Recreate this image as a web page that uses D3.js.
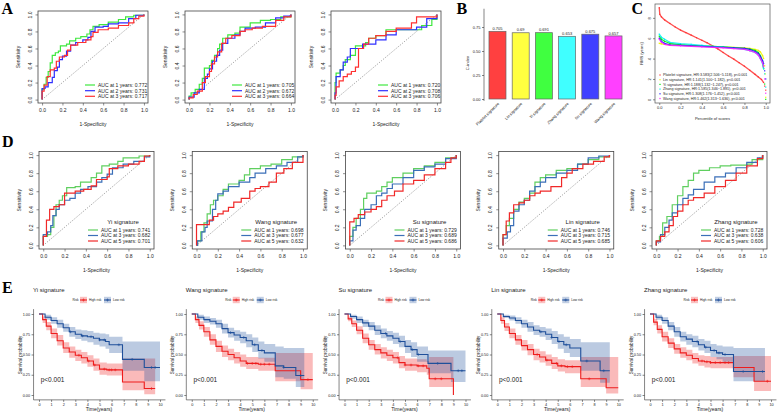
<!DOCTYPE html>
<html>
<head>
<meta charset="utf-8">
<script src="https://cdn.jsdelivr.net/npm/d3@7/dist/d3.min.js"></script>
<style>
  body { margin: 0; background: #fff; }
  svg { display: block; }
  text { font-family: "Liberation Sans", Arial, sans-serif; fill: #222; }
  .letter { font-family: "Liberation Serif", "Times New Roman", serif; font-weight: bold; font-size: 16px; fill: #000; }
</style>
</head>
<body>
<svg width="777" height="412"></svg>
<script>
const svg = d3.select('svg')

// ---------- data ----------
const signatures = ['Yi signature', 'Wang signature', 'Su signature', 'Lin signature', 'Zhang signature']

// panel A: ROC at 1/2/3 years, [fpr, tpr]
const rocA1 = [
  [[0,0],[0,0.12],[0.02,0.18],[0.04,0.26],[0.06,0.33],[0.08,0.43],[0.1,0.52],[0.13,0.55],[0.16,0.57],[0.18,0.63],[0.24,0.65],[0.27,0.69],[0.33,0.72],[0.38,0.74],[0.44,0.77],[0.47,0.82],[0.5,0.86],[0.56,0.88],[0.65,0.91],[0.75,0.94],[0.82,0.97],[0.9,0.99],[1,1]],
  [[0,0],[0,0.13],[0.03,0.15],[0.06,0.2],[0.1,0.26],[0.12,0.34],[0.15,0.38],[0.17,0.47],[0.2,0.51],[0.24,0.57],[0.28,0.64],[0.33,0.67],[0.4,0.7],[0.45,0.73],[0.48,0.8],[0.52,0.85],[0.6,0.86],[0.65,0.89],[0.75,0.9],[0.85,0.95],[0.92,0.99],[1,1]],
  [[0,0],[0,0.1],[0.02,0.17],[0.05,0.27],[0.08,0.35],[0.12,0.37],[0.14,0.45],[0.17,0.5],[0.22,0.52],[0.25,0.58],[0.28,0.64],[0.35,0.67],[0.43,0.7],[0.48,0.74],[0.5,0.79],[0.55,0.82],[0.65,0.84],[0.75,0.87],[0.85,0.9],[0.9,0.95],[0.95,0.98],[1,1]]
]
const rocA2 = [
  [[0,0],[0,0.04],[0.02,0.08],[0.06,0.12],[0.1,0.18],[0.13,0.25],[0.15,0.37],[0.2,0.4],[0.22,0.46],[0.25,0.52],[0.28,0.6],[0.3,0.65],[0.33,0.72],[0.38,0.76],[0.45,0.78],[0.5,0.85],[0.6,0.9],[0.7,0.93],[0.8,0.94],[0.9,0.97],[1,1]],
  [[0,0],[0,0.03],[0.05,0.08],[0.1,0.12],[0.15,0.25],[0.18,0.3],[0.2,0.36],[0.23,0.45],[0.27,0.52],[0.3,0.58],[0.33,0.66],[0.38,0.72],[0.45,0.76],[0.5,0.8],[0.55,0.84],[0.65,0.85],[0.75,0.9],[0.85,0.96],[0.93,0.98],[1,1]],
  [[0,0],[0,0.02],[0.04,0.06],[0.08,0.1],[0.13,0.2],[0.16,0.27],[0.2,0.33],[0.22,0.42],[0.25,0.5],[0.28,0.56],[0.32,0.66],[0.36,0.72],[0.42,0.75],[0.5,0.8],[0.55,0.82],[0.62,0.84],[0.72,0.86],[0.85,0.93],[0.93,0.97],[1,1]]
]
const rocA3 = [
  [[0,0],[0,0.2],[0.01,0.31],[0.05,0.35],[0.08,0.4],[0.1,0.47],[0.15,0.52],[0.2,0.63],[0.3,0.67],[0.33,0.72],[0.4,0.75],[0.5,0.82],[0.82,0.82],[0.85,0.87],[0.95,0.94],[1,1]],
  [[0,0],[0,0.08],[0.01,0.27],[0.05,0.35],[0.08,0.44],[0.12,0.5],[0.15,0.6],[0.27,0.65],[0.35,0.65],[0.4,0.7],[0.5,0.76],[0.6,0.82],[0.8,0.85],[0.9,0.95],[1,1]],
  [[0,0],[0,0.05],[0.01,0.15],[0.04,0.22],[0.08,0.27],[0.12,0.3],[0.16,0.33],[0.2,0.38],[0.23,0.6],[0.28,0.65],[0.33,0.72],[0.4,0.75],[0.5,0.8],[0.6,0.84],[0.75,0.9],[0.8,0.97],[1,1]]
]
const aucA = [[0.772, 0.731, 0.717], [0.705, 0.672, 0.664], [0.720, 0.708, 0.706]]
const yearsA = [1, 2, 3]

// panel B: C-index
const cNames = ['Platelet signature', 'Lin signature', 'Yi signature', 'Zhang signature', 'Su signature', 'Wang signature']
const cIndex = [0.705, 0.69, 0.691, 0.653, 0.675, 0.657]
const cLabels = ['0.705', '0.69', '0.691', '0.653', '0.675', '0.657']

// panel C: RMS vs percentile of scores, [percentile, RMS]
const rmsPlatelet = [[0,9.0],[0.005,8.35],[0.02,8.1],[0.05,7.8],[0.1,7.45],[0.15,7.1],[0.2,6.8],[0.25,6.55],[0.3,6.3],[0.35,6.05],[0.4,5.8],[0.45,5.55],[0.5,5.25],[0.55,4.95],[0.6,4.6],[0.65,4.25],[0.7,3.95],[0.75,3.6],[0.8,3.25],[0.85,2.85],[0.9,2.45],[0.93,2.2],[0.96,1.95],[0.98,1.65],[0.99,1.3],[1,0.9]]
const rmsLin = [[0,5.5],[0.02,5.45],[0.05,5.4],[0.1,5.35],[0.2,5.3],[0.3,5.27],[0.4,5.23],[0.5,5.2],[0.6,5.15],[0.7,5.1],[0.8,5.05],[0.85,5.0],[0.9,4.9],[0.93,4.8],[0.95,4.65],[0.97,4.3],[0.98,4.0],[0.99,3.3],[0.995,2.5],[1,0.2]]
const rmsYi = [[0,6.2],[0.02,5.9],[0.05,5.7],[0.1,5.5],[0.2,5.38],[0.3,5.3],[0.4,5.25],[0.5,5.2],[0.6,5.15],[0.7,5.08],[0.8,5.0],[0.85,4.92],[0.9,4.8],[0.93,4.6],[0.95,4.3],[0.97,3.7],[0.98,3.0],[0.99,1.5],[1,0]]
const rmsZhang = [[0,6.4],[0.02,6.1],[0.05,5.9],[0.1,5.6],[0.2,5.47],[0.3,5.4],[0.4,5.3],[0.5,5.2],[0.6,5.12],[0.7,5.02],[0.8,4.9],[0.85,4.78],[0.9,4.6],[0.93,4.35],[0.95,4.0],[0.97,3.5],[0.98,3.0],[0.99,2.5],[1,1.2]]
const rmsSu = [[0,6.0],[0.02,5.7],[0.05,5.5],[0.1,5.35],[0.2,5.3],[0.3,5.25],[0.4,5.2],[0.5,5.15],[0.6,5.1],[0.7,5.05],[0.8,5.0],[0.85,4.9],[0.9,4.7],[0.93,4.5],[0.95,4.2],[0.97,3.8],[0.98,3.5],[0.99,2.8],[1,2.0]]
const rmsWang = [[0,5.9],[0.02,5.6],[0.05,5.4],[0.1,5.3],[0.2,5.25],[0.3,5.2],[0.4,5.15],[0.5,5.1],[0.6,5.05],[0.7,4.98],[0.8,4.9],[0.85,4.78],[0.9,4.6],[0.93,4.35],[0.95,4.0],[0.97,3.6],[0.98,3.2],[0.99,2.0],[1,0.6]]
const rmsLegend = [
  'Platelet signature, HR:3.583(2.506~5.118), p<0.001',
  'Lin signature, HR:1.141(1.100~1.182), p<0.001',
  'Yi signature, HR:1.188(1.132~1.247), p<0.001',
  'Zhang signature, HR:1.585(1.346~1.891), p<0.001',
  'Su signature, HR:1.308(1.176~1.452), p<0.001',
  'Wang signature, HR:1.462(1.313~1.636), p<0.001'
]

// panel D: ROC at 1/3/5 years per signature
const rocYi = [
  [[0,0],[0,0.1],[0.04,0.12],[0.07,0.2],[0.1,0.33],[0.12,0.45],[0.15,0.5],[0.18,0.55],[0.22,0.64],[0.3,0.65],[0.35,0.7],[0.45,0.75],[0.5,0.8],[0.55,0.88],[0.62,0.9],[0.7,0.93],[0.75,0.97],[0.9,0.99],[1,1]],
  [[0,0],[0,0.12],[0.04,0.15],[0.07,0.22],[0.09,0.33],[0.12,0.4],[0.15,0.45],[0.2,0.5],[0.25,0.52],[0.3,0.58],[0.35,0.62],[0.42,0.65],[0.5,0.7],[0.55,0.75],[0.6,0.79],[0.65,0.86],[0.75,0.9],[0.85,0.93],[0.95,0.98],[1,1]],
  [[0,0],[0,0.1],[0.03,0.28],[0.06,0.4],[0.1,0.43],[0.15,0.45],[0.2,0.58],[0.3,0.6],[0.38,0.62],[0.45,0.66],[0.5,0.73],[0.6,0.76],[0.62,0.85],[0.7,0.88],[0.8,0.9],[0.9,0.93],[0.95,0.99],[1,1]]
]
const rocWang = [
  [[0,0],[0.01,0.05],[0.04,0.15],[0.07,0.25],[0.1,0.35],[0.13,0.45],[0.16,0.5],[0.2,0.55],[0.25,0.62],[0.3,0.68],[0.4,0.72],[0.45,0.78],[0.5,0.85],[0.6,0.88],[0.7,0.9],[0.8,0.95],[0.9,0.98],[1,1]],
  [[0,0],[0.01,0.05],[0.05,0.15],[0.08,0.2],[0.1,0.27],[0.15,0.4],[0.18,0.5],[0.2,0.57],[0.25,0.6],[0.3,0.65],[0.4,0.7],[0.5,0.75],[0.55,0.8],[0.65,0.85],[0.75,0.88],[0.85,0.92],[0.95,0.98],[1,1]],
  [[0,0],[0,0.23],[0.1,0.23],[0.12,0.28],[0.16,0.32],[0.2,0.35],[0.25,0.38],[0.3,0.42],[0.35,0.48],[0.42,0.52],[0.5,0.6],[0.55,0.63],[0.6,0.65],[0.68,0.7],[0.75,0.8],[0.82,0.85],[0.9,0.92],[1,1]]
]
const rocSu = [
  [[0,0],[0,0.1],[0.03,0.2],[0.06,0.3],[0.1,0.4],[0.13,0.52],[0.16,0.58],[0.25,0.6],[0.3,0.65],[0.35,0.7],[0.4,0.75],[0.5,0.8],[0.6,0.85],[0.7,0.88],[0.8,0.92],[0.9,0.97],[1,1]],
  [[0,0],[0,0.05],[0.03,0.17],[0.06,0.22],[0.1,0.3],[0.14,0.4],[0.2,0.45],[0.25,0.55],[0.3,0.58],[0.35,0.63],[0.4,0.68],[0.5,0.75],[0.6,0.83],[0.7,0.87],[0.8,0.9],[0.9,0.96],[1,1]],
  [[0,0],[0,0.26],[0.04,0.3],[0.08,0.34],[0.14,0.37],[0.2,0.4],[0.25,0.43],[0.3,0.5],[0.35,0.55],[0.42,0.6],[0.5,0.68],[0.6,0.72],[0.7,0.78],[0.8,0.85],[0.9,0.92],[0.95,0.97],[1,1]]
]
const rocLin = [
  [[0,0],[0,0.12],[0.03,0.22],[0.06,0.3],[0.1,0.4],[0.15,0.48],[0.2,0.52],[0.25,0.58],[0.3,0.7],[0.35,0.75],[0.4,0.78],[0.5,0.83],[0.6,0.85],[0.7,0.9],[0.8,0.95],[0.9,0.98],[1,1]],
  [[0,0],[0,0.08],[0.04,0.15],[0.07,0.22],[0.1,0.38],[0.15,0.45],[0.2,0.5],[0.25,0.6],[0.3,0.65],[0.35,0.7],[0.4,0.75],[0.5,0.8],[0.6,0.83],[0.7,0.9],[0.8,0.97],[0.9,0.99],[1,1]],
  [[0,0],[0,0.12],[0.03,0.27],[0.06,0.36],[0.1,0.45],[0.15,0.47],[0.2,0.5],[0.25,0.55],[0.3,0.58],[0.35,0.6],[0.45,0.65],[0.55,0.75],[0.6,0.8],[0.65,0.85],[0.75,0.9],[0.85,0.93],[0.95,0.98],[1,1]]
]
const rocZhang = [
  [[0,0],[0,0.05],[0.03,0.1],[0.06,0.25],[0.1,0.32],[0.15,0.45],[0.2,0.55],[0.25,0.65],[0.3,0.72],[0.35,0.8],[0.4,0.83],[0.5,0.86],[0.6,0.88],[0.7,0.89],[0.85,0.9],[0.9,0.95],[1,1]],
  [[0,0],[0,0.04],[0.04,0.12],[0.08,0.2],[0.12,0.28],[0.15,0.36],[0.2,0.45],[0.25,0.52],[0.3,0.56],[0.35,0.62],[0.45,0.7],[0.55,0.76],[0.65,0.8],[0.75,0.86],[0.85,0.92],[0.95,0.97],[1,1]],
  [[0,0],[0,0.05],[0.04,0.1],[0.08,0.15],[0.12,0.22],[0.16,0.32],[0.2,0.38],[0.25,0.45],[0.3,0.5],[0.35,0.53],[0.45,0.58],[0.55,0.65],[0.65,0.72],[0.75,0.8],[0.85,0.88],[0.95,0.96],[1,1]]
]
const aucD = [[0.741, 0.682, 0.701], [0.698, 0.677, 0.632], [0.729, 0.689, 0.686], [0.746, 0.715, 0.685], [0.728, 0.638, 0.606]]
const yearsD = [1, 3, 5]

// panel E: Kaplan-Meier, [time, surv, lower, upper]
const kmYiHigh = [[0,1,1,1],[0.3,0.93,0.89,0.97],[0.6,0.85,0.8,0.9],[1,0.76,0.7,0.82],[1.5,0.67,0.61,0.74],[2,0.58,0.52,0.65],[2.5,0.53,0.46,0.6],[3,0.49,0.42,0.56],[3.5,0.46,0.39,0.53],[4,0.42,0.35,0.49],[4.5,0.37,0.3,0.45],[5,0.32,0.25,0.4],[5.6,0.31,0.24,0.39],[6.9,0.16,0.06,0.45],[8.7,0.08,0.01,0.45],[9.6,0.08,0.01,0.45]]
const kmYiLow = [[0,1,1,1],[0.5,0.96,0.93,0.99],[1,0.92,0.88,0.96],[1.5,0.88,0.83,0.93],[2,0.83,0.78,0.88],[2.5,0.78,0.72,0.84],[3,0.75,0.69,0.81],[3.5,0.73,0.67,0.8],[4,0.72,0.65,0.79],[4.5,0.7,0.62,0.77],[5,0.68,0.6,0.76],[5.5,0.66,0.57,0.75],[5.8,0.62,0.52,0.72],[6.9,0.44,0.3,0.66],[8.7,0.34,0.17,0.66],[10,0.34,0.17,0.66]]
const kmWangHigh = [[0,1,1,1],[0.3,0.93,0.89,0.97],[0.6,0.86,0.81,0.91],[1,0.78,0.72,0.84],[1.5,0.68,0.62,0.75],[2,0.6,0.53,0.67],[2.5,0.54,0.47,0.61],[3,0.5,0.43,0.57],[3.5,0.46,0.39,0.53],[4,0.42,0.35,0.5],[4.5,0.39,0.32,0.47],[5.5,0.38,0.3,0.46],[6.9,0.3,0.17,0.52],[9,0.19,0.07,0.52],[10,0.19,0.07,0.52]]
const kmWangLow = [[0,1,1,1],[0.5,0.96,0.93,0.99],[1,0.93,0.89,0.97],[1.5,0.91,0.87,0.95],[2,0.88,0.83,0.93],[2.5,0.82,0.76,0.88],[3,0.77,0.71,0.83],[3.5,0.74,0.67,0.8],[4,0.71,0.64,0.78],[4.5,0.67,0.59,0.75],[5,0.62,0.53,0.71],[5.5,0.55,0.45,0.66],[6,0.52,0.41,0.63],[6.9,0.36,0.22,0.6],[7.6,0.34,0.2,0.58],[8.6,0.24,0.1,0.58],[9.3,0.24,0.1,0.58]]
const kmSuHigh = [[0,1,1,1],[0.3,0.94,0.91,0.97],[0.6,0.88,0.84,0.92],[1,0.8,0.75,0.85],[1.5,0.7,0.64,0.76],[2,0.62,0.56,0.68],[2.5,0.56,0.5,0.63],[3,0.52,0.45,0.59],[3.5,0.49,0.42,0.56],[4,0.46,0.39,0.53],[4.5,0.4,0.33,0.48],[5,0.37,0.3,0.45],[6,0.36,0.28,0.44],[6.8,0.33,0.25,0.42],[7,0.2,0.1,0.47],[9,0,0,0.47]]
const kmSuLow = [[0,1,1,1],[0.5,0.97,0.94,0.99],[1,0.93,0.89,0.97],[1.5,0.89,0.84,0.93],[2,0.85,0.8,0.9],[2.5,0.8,0.74,0.86],[3,0.76,0.7,0.82],[3.5,0.73,0.67,0.79],[4,0.7,0.63,0.77],[4.5,0.66,0.59,0.73],[5,0.6,0.52,0.68],[5.5,0.56,0.47,0.65],[6,0.5,0.41,0.6],[6.9,0.39,0.27,0.55],[8.8,0.3,0.16,0.55],[10,0.3,0.16,0.55]]
const kmLinHigh = [[0,1,1,1],[0.3,0.92,0.88,0.96],[0.6,0.84,0.79,0.89],[1,0.76,0.7,0.82],[1.5,0.68,0.62,0.74],[2,0.61,0.55,0.68],[2.5,0.56,0.49,0.63],[3,0.5,0.43,0.57],[3.5,0.47,0.4,0.54],[4,0.43,0.36,0.5],[4.5,0.39,0.32,0.47],[5,0.36,0.29,0.44],[5.6,0.35,0.27,0.43],[6.9,0.2,0.1,0.47],[9,0.09,0.02,0.47],[10,0.09,0.02,0.47]]
const kmLinLow = [[0,1,1,1],[0.5,0.97,0.95,0.99],[1,0.95,0.92,0.98],[1.5,0.92,0.88,0.96],[2,0.88,0.83,0.93],[2.5,0.84,0.78,0.9],[3,0.8,0.74,0.86],[3.5,0.78,0.72,0.84],[4,0.75,0.68,0.82],[4.5,0.71,0.63,0.79],[5,0.66,0.57,0.75],[5.5,0.62,0.52,0.72],[6,0.58,0.47,0.69],[6.9,0.42,0.3,0.65],[8.5,0.3,0.15,0.65],[9.3,0.3,0.15,0.65]]
const kmZhangHigh = [[0,1,1,1],[0.3,0.9,0.86,0.94],[0.6,0.81,0.76,0.86],[1,0.72,0.66,0.78],[1.5,0.64,0.58,0.7],[2,0.57,0.51,0.63],[2.5,0.52,0.46,0.59],[3,0.49,0.43,0.56],[3.5,0.45,0.39,0.52],[4,0.42,0.36,0.49],[4.5,0.41,0.34,0.48],[5,0.4,0.33,0.47],[6.9,0.34,0.22,0.48],[8.6,0.17,0.05,0.48],[10,0.17,0.05,0.48]]
const kmZhangLow = [[0,1,1,1],[0.5,0.96,0.93,0.99],[1,0.92,0.88,0.96],[1.5,0.85,0.8,0.9],[2,0.78,0.72,0.84],[2.5,0.72,0.66,0.78],[3,0.69,0.62,0.75],[3.5,0.66,0.59,0.73],[4,0.62,0.55,0.69],[4.5,0.59,0.52,0.67],[5,0.55,0.47,0.63],[5.5,0.52,0.44,0.61],[6,0.5,0.41,0.6],[6.9,0.29,0.17,0.58],[9.5,0.29,0.17,0.58]]
// censored times
const censHigh = [[3.3,4.1,4.6,5.4,5.8,6.0,6.3,9.3],[4.6,5.0,5.3,5.7,6.0,6.4,9.6],[4.4,5.0,5.5,6.1,6.5,7.5,8.0],[3.3,4.1,4.9,5.3,5.8,6.2,7.6],[4.3,4.7,5.0,5.4,5.8,6.2,6.5,9.7]]
const censLow = [[2.6,3.6,4.3,5.0,5.4,6.6,7.7,9.3,9.6],[3.2,4.3,5.2,5.8,7.6,9.0],[3.4,4.6,5.6,6.1,7.7,9.4,9.7],[3.6,4.5,5.1,5.7,7.4,8.8],[3.9,4.6,5.3,5.7,6.2,7.7,9.3]]

// ---------- colours ----------
const rocColorsA = ['#3ee83e', '#2f2fff', '#ff3030']
const rocColorsD = ['#5fcf5f', '#3b6fb8', '#f02828']
const barColors = ['#ff4040', '#ffff40', '#40ff40', '#40ffff', '#4040ff', '#ff40ff']
const rmsColors = ['#ff3030', '#f2f200', '#00ee00', '#00eeee', '#2020ff', '#ff20ff']
const kmRed = '#ee1c1c', kmBlue = '#1f4f9a'

// ---------- helpers ----------
function letter(t, x, y) {
  svg.append('text').attr('class', 'letter').attr('x', x).attr('y', y).text(t)
}

function rotateYLabels(g, off) {
  g.selectAll('.tick text')
    .attr('transform', 'rotate(-90)')
    .attr('text-anchor', 'middle')
    .attr('x', 0).attr('y', -off).attr('dy', 0)
}

function rocPlot(o) {
  const x = d3.scaleLinear().domain([-0.04, 1.04]).range([o.left, o.left + o.w])
  const y = d3.scaleLinear().domain([-0.04, 1.04]).range([o.top + o.h, o.top])
  const g = svg.append('g')
  const bottom = o.top + o.h

  g.append('line')
    .attr('x1', x(0)).attr('y1', y(0)).attr('x2', x(1)).attr('y2', y(1))
    .attr('stroke', '#666').attr('stroke-width', 0.7).attr('stroke-dasharray', '1,1.5')

  const line = d3.line().x(d => x(d[0])).y(d => y(d[1])).curve(d3.curveStepAfter)
  o.curves.forEach((c, i) => {
    g.append('path').datum(c).attr('d', line)
      .attr('fill', 'none').attr('stroke', o.colors[i]).attr('stroke-width', 1.2)
  })

  g.append('rect').attr('x', o.left).attr('y', o.top).attr('width', o.w).attr('height', o.h)
    .attr('fill', 'none').attr('stroke', '#444').attr('stroke-width', 0.8)

  const ticks = [0, 0.2, 0.4, 0.6, 0.8, 1]
  const fmt = d3.format('.1f')
  const ax = g.append('g').attr('transform', `translate(0,${bottom})`)
    .call(d3.axisBottom(x).tickValues(ticks).tickFormat(fmt).tickSize(2.5).tickPadding(2.5))
  const ay = g.append('g').attr('transform', `translate(${o.left},0)`)
    .call(d3.axisLeft(y).tickValues(ticks).tickFormat(fmt).tickSize(2.5))
  ;[ax, ay].forEach(a => {
    a.select('.domain').remove()
    a.selectAll('line').attr('stroke', '#444').attr('stroke-width', 0.6)
    a.selectAll('text').attr('font-size', 5).attr('fill', '#333')
  })
  rotateYLabels(ay, 6.5)

  g.append('text').attr('x', o.left + o.w / 2).attr('y', bottom + 22.5)
    .attr('text-anchor', 'middle').attr('font-size', 5).text('1-Specificity')
  g.append('text').attr('transform', `translate(${o.left - 18.5},${o.top + o.h / 2}) rotate(-90)`)
    .attr('text-anchor', 'middle').attr('font-size', 5).text('Sensitivity')

  // legend
  if (o.title) {
    g.append('text').attr('x', o.left + o.lgTitleX).attr('y', bottom - o.lgTitleY)
      .attr('text-anchor', 'middle').attr('font-size', 6).text(o.title)
  }
  o.aucs.forEach((a, i) => {
    const yy = bottom - o.lgRows[i]
    g.append('line').attr('x1', o.left + o.lgLine).attr('x2', o.left + o.lgLine + 10)
      .attr('y1', yy).attr('y2', yy).attr('stroke', o.colors[i]).attr('stroke-width', 1.2)
    g.append('text').attr('x', o.left + o.lgText).attr('y', yy + 1.8).attr('font-size', 5)
      .text(`AUC at ${o.years[i]} years: ${a.toFixed(3)}`)
  })
}

function kmPlot(o) {
  const x = d3.scaleLinear().domain([0, 10]).range([o.x0, o.x0 + 121])
  const y = d3.scaleLinear().domain([0, 1]).range([395, 314])
  const g = svg.append('g')

  g.append('text').attr('x', o.x0 - 6).attr('y', 292).attr('font-size', 6).text(o.title)

  // legend
  const ly = 300
  g.append('text').attr('x', o.x0 + 33.5).attr('y', ly + 1.1).attr('font-size', 3.2).text('Risk')
  const keys = [[o.x0 + 41, kmRed, 'High risk', o.x0 + 50], [o.x0 + 65, kmBlue, 'Low risk', o.x0 + 74]]
  keys.forEach(k => {
    g.append('rect').attr('x', k[0]).attr('y', ly - 3.2).attr('width', 7).attr('height', 6.4)
      .attr('fill', k[1]).attr('fill-opacity', 0.28)
    g.append('line').attr('x1', k[0]).attr('x2', k[0] + 7).attr('y1', ly).attr('y2', ly)
      .attr('stroke', k[1]).attr('stroke-width', 1.1)
    g.append('path').attr('d', `M${k[0] + 2},${ly}h3M${k[0] + 3.5},${ly - 1.5}v3`).attr('stroke', k[1]).attr('stroke-width', 0.6)
    g.append('text').attr('x', k[3]).attr('y', ly + 1.1).attr('font-size', 3.2).text(k[2])
  })

  const area = d3.area().curve(d3.curveStepAfter)
    .x(d => x(d[0])).y0(d => y(d[2])).y1(d => y(d[3]))
  const line = d3.line().curve(d3.curveStepAfter).x(d => x(d[0])).y(d => y(d[1]))

  const series = [[o.high, kmRed, o.censHigh], [o.low, kmBlue, o.censLow]]
  series.forEach(s => {
    g.append('path').datum(s[0]).attr('d', area).attr('fill', s[1]).attr('fill-opacity', 0.3)
  })
  series.forEach(s => {
    g.append('path').datum(s[0]).attr('d', line).attr('fill', 'none')
      .attr('stroke', s[1]).attr('stroke-width', 1.1)
    const bis = d3.bisector(d => d[0]).right
    s[2].forEach(t => {
      const v = s[0][Math.max(0, bis(s[0], t) - 1)][1]
      g.append('path').attr('d', `M${x(t) - 1.4},${y(v)}h2.8M${x(t)},${y(v) - 1.4}v2.8`)
        .attr('stroke', s[1]).attr('stroke-width', 0.6)
    })
  })

  // axes
  const ay = g.append('g').attr('transform', `translate(${x(-0.45)},0)`)
    .call(d3.axisLeft(y).tickValues([0, 0.25, 0.5, 0.75, 1]).tickFormat(d3.format('.2f')).tickSize(2).tickPadding(1.5))
  const ax = g.append('g').attr('transform', `translate(0,${y(-0.06)})`)
    .call(d3.axisBottom(x).tickValues(d3.range(0, 11)).tickSize(2).tickPadding(1))
  ay.select('.domain').attr('d', `M0,${y(-0.06)}V${y(1.06)}`)
  ax.select('.domain').attr('d', `M${x(-0.45)},0H${x(10.45)}`)
  ;[ax, ay].forEach(a => {
    a.selectAll('path, line').attr('stroke', '#333').attr('stroke-width', 0.6)
    a.selectAll('text').attr('font-size', 3.8).attr('fill', '#333')
  })

  g.append('text').attr('x', o.x0 + 60).attr('y', 410.5).attr('text-anchor', 'middle')
    .attr('font-size', 5).text('Time(years)')
  g.append('text').attr('transform', `translate(${o.x0 - 17.5},355) rotate(-90)`)
    .attr('text-anchor', 'middle').attr('font-size', 4.6).text('Survival probability')
  g.append('text').attr('x', o.x0 + 1.7).attr('y', 381.5).attr('font-size', 6.5).text('p<0.001')
}

// ---------- panel A ----------
letter('A', 1.5, 14)
;[rocA1, rocA2, rocA3].forEach((c, i) => {
  rocPlot({
    left: [38, 185, 331][i], top: 11, w: 110, h: 92,
    curves: c, colors: rocColorsA, aucs: aucA[i], years: yearsA,
    lgRows: [18, 12.3, 6.7], lgLine: 47, lgText: 60
  })
})

// ---------- panel B ----------
letter('B', 456.5, 14)
{
  const g = svg.append('g')
  const x = d3.scaleBand().domain(cNames).range([485.5, 625.5]).paddingInner(0.267).paddingOuter(0.15)
  const y = d3.scaleLinear().domain([0, 0.75]).range([99, 27])
  g.selectAll('rect').data(cIndex).join('rect')
    .attr('x', (d, i) => x(cNames[i])).attr('width', x.bandwidth())
    .attr('y', d => y(d)).attr('height', d => y(0) - y(d))
    .attr('fill', (d, i) => barColors[i]).attr('stroke', '#666').attr('stroke-width', 0.7)
  g.selectAll('.val').data(cLabels).join('text').attr('class', 'val')
    .attr('x', (d, i) => x(cNames[i]) + x.bandwidth() / 2).attr('y', (d, i) => y(cIndex[i]) - 1.3)
    .attr('text-anchor', 'middle').attr('font-size', 4).text(d => d)
  const ay = g.append('g').attr('transform', 'translate(484,0)')
    .call(d3.axisLeft(y).tickValues([0, 0.25, 0.5, 0.75]).tickFormat(d3.format('.2f')).tickSize(2).tickPadding(1.5))
  ay.select('.domain').attr('d', `M0,${y(-0.02)}V${y(0.94)}`)
  ay.selectAll('path, line').attr('stroke', '#333').attr('stroke-width', 0.6)
  ay.selectAll('text').attr('font-size', 4).attr('fill', '#333')
  g.append('text').attr('transform', 'translate(469,63) rotate(-90)')
    .attr('text-anchor', 'middle').attr('font-size', 4.2).text('C-index')
  cNames.forEach(n => {
    g.append('text')
      .attr('transform', `translate(${x(n) + x.bandwidth() / 2 + 2},104) rotate(-45)`)
      .attr('text-anchor', 'end').attr('font-size', 4).text(n)
  })
}

// ---------- panel C ----------
letter('C', 631.5, 14)
{
  const g = svg.append('g')
  const left = 655, top = 4, w = 115, h = 99
  const x = d3.scaleLinear().domain([-0.04, 1.04]).range([left, left + w])
  const y = d3.scaleLinear().domain([-0.36, 9.36]).range([top + h, top])
  const all = [rmsPlatelet, rmsLin, rmsYi, rmsZhang, rmsSu, rmsWang]
  const line = d3.line().x(d => x(d[0])).y(d => y(d[1]))
  all.forEach((s, i) => {
    g.append('path').datum(s.filter(d => d[0] < 0.985)).attr('d', line).attr('fill', 'none')
      .attr('stroke', rmsColors[i]).attr('stroke-width', 1.3).attr('stroke-opacity', 0.85)
    g.selectAll(null).data(s).join('rect')
      .attr('x', d => x(d[0]) - 0.6).attr('y', d => y(d[1]) - 0.6).attr('width', 1.2).attr('height', 1.2)
      .attr('fill', rmsColors[i])
  })
  g.append('rect').attr('x', left).attr('y', top).attr('width', w).attr('height', h)
    .attr('fill', 'none').attr('stroke', '#555').attr('stroke-width', 0.7)
  const ax = g.append('g').attr('transform', `translate(0,${top + h})`)
    .call(d3.axisBottom(x).tickValues([0, 0.2, 0.4, 0.6, 0.8, 1]).tickFormat(d3.format('.1f')).tickSize(2).tickPadding(1.5))
  const ay = g.append('g').attr('transform', `translate(${left},0)`)
    .call(d3.axisLeft(y).tickValues([0, 2, 4, 6, 8]).tickSize(2))
  ;[ax, ay].forEach(a => {
    a.select('.domain').remove()
    a.selectAll('line').attr('stroke', '#444').attr('stroke-width', 0.6)
    a.selectAll('text').attr('font-size', 4).attr('fill', '#333')
  })
  rotateYLabels(ay, 4.5)
  g.append('text').attr('x', left + w / 2).attr('y', 119.5).attr('text-anchor', 'middle')
    .attr('font-size', 4).text('Percentile of scores')
  g.append('text').attr('transform', `translate(${left - 12},${top + h / 2}) rotate(-90)`)
    .attr('text-anchor', 'middle').attr('font-size', 4).text('RMS (years)')
  rmsLegend.forEach((t, i) => {
    const yy = 75 + i * 4.7
    g.append('rect').attr('x', 659.4).attr('y', yy - 0.6).attr('width', 1.2).attr('height', 1.2).attr('fill', rmsColors[i])
    g.append('text').attr('x', 663).attr('y', yy + 1.3).attr('font-size', 3.7).text(t)
  })
}

// ---------- panel D ----------
letter('D', 2, 147)
;[rocYi, rocWang, rocSu, rocLin, rocZhang].forEach((c, i) => {
  rocPlot({
    left: 39 + 153.25 * i, top: 151.5, w: 115, h: 97.5,
    curves: c, colors: rocColorsD, aucs: aucD[i], years: yearsD,
    title: signatures[i], lgTitleX: 84, lgTitleY: 25.5,
    lgRows: [19, 13.5, 8], lgLine: 49, lgText: 62
  })
})

// ---------- panel E ----------
letter('E', 2, 293)
const kmHigh = [kmYiHigh, kmWangHigh, kmSuHigh, kmLinHigh, kmZhangHigh]
const kmLow = [kmYiLow, kmWangLow, kmSuLow, kmLinLow, kmZhangLow]
signatures.forEach((s, i) => {
  kmPlot({
    x0: 39 + 152.75 * i, title: s,
    high: kmHigh[i], low: kmLow[i], censHigh: censHigh[i], censLow: censLow[i]
  })
})
</script>
</body>
</html>
